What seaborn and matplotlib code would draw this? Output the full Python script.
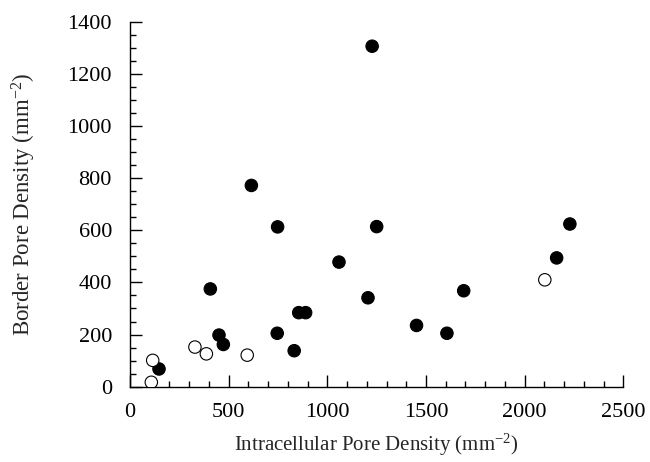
import numpy as np
import pandas as pd
import matplotlib
matplotlib.use("Agg")
import matplotlib.pyplot as plt
from matplotlib.ticker import MultipleLocator
import seaborn as sns

# filled symbols
filled_x = [615, 748, 407, 451, 473, 147, 746, 832, 855, 890,
            1250, 1059, 1206, 1691, 1452, 1606, 2229, 2162, 1227]
filled_y = [772, 613, 375, 198, 162, 68, 205, 138, 284, 284,
            614, 478, 341, 368, 235, 205, 624, 494, 1306]
# open symbols
open_x = [115, 108, 329, 387, 594, 2102]
open_y = [101, 17, 152, 126, 121, 410]

df = pd.DataFrame({
    "intracellular": filled_x + open_x,
    "border": filled_y + open_y,
    "group": ["filled"] * len(filled_x) + ["open"] * len(open_x),
})

sns.set_style("ticks")
plt.rcParams.update({
    "font.family": ["Liberation Serif", "DejaVu Serif"],
    "mathtext.fontset": "custom",
    "mathtext.rm": "Liberation Serif",
    "mathtext.it": "Liberation Serif",
    "font.size": 15,
})

fig = plt.figure(figsize=(6.5, 4.62), dpi=100)
ax = fig.add_axes([0.2, 0.163, 0.759, 0.79])

sns.scatterplot(data=df, x="intracellular", y="border", hue="group",
                palette={"filled": "black", "open": "white"},
                edgecolor="black", linewidth=0.8, s=80, legend=False, ax=ax, zorder=3)

ax.set_xlim(0, 2500)
ax.set_ylim(0, 1400)
ax.xaxis.set_major_locator(MultipleLocator(500))
ax.xaxis.set_minor_locator(MultipleLocator(100))
ax.yaxis.set_major_locator(MultipleLocator(200))
ax.yaxis.set_minor_locator(MultipleLocator(50))
ax.tick_params(which="both", direction="in", width=1.0, colors="black", labelsize=16)
ax.tick_params(axis="y", which="major", length=8.5, pad=13)
ax.tick_params(axis="y", which="minor", length=4.3)
ax.tick_params(axis="x", which="major", length=8.5, pad=12)
ax.tick_params(axis="x", which="minor", length=4.3)
sns.despine(ax=ax)
for side in ("left", "bottom"):
    ax.spines[side].set_linewidth(1.0)
    ax.spines[side].set_color("black")

ax.set_xlabel(r"Intracellular Pore Density (mm$^{\mathrm{-2}}$)", fontsize=15, labelpad=7)
ax.set_ylabel(r"Border Pore Density (mm$^{\mathrm{-2}}$)", fontsize=16.5, labelpad=21)

fig.savefig("out.png", dpi=100)
